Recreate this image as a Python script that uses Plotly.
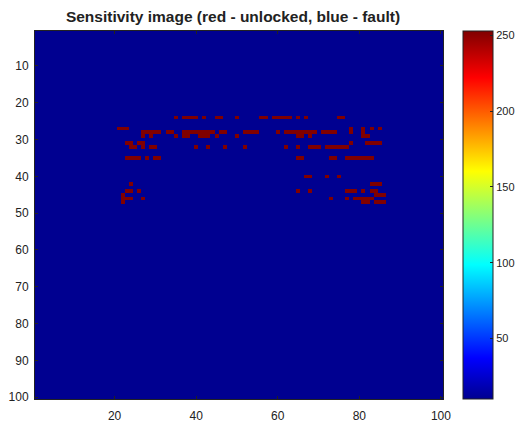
import numpy as np
import plotly.graph_objects as go

# ---- data ----
n_rows = 100
n_cols = 100
fault_value = 10        # blue background level
unlocked_value = 253    # red cells level

# (row, first_col, last_col) of red "unlocked" cells
unlocked_cells = [
    (24, 35, 35), (24, 37, 40), (24, 42, 42), (24, 45, 46), (24, 50, 50),
    (24, 56, 57), (24, 59, 63), (24, 65, 65), (24, 67, 67), (24, 75, 76),
    (27, 21, 23), (27, 78, 78), (27, 81, 81), (27, 83, 83), (27, 85, 85),
    (28, 27, 31), (28, 33, 34), (28, 37, 44), (28, 46, 47), (28, 52, 55),
    (28, 60, 60), (28, 62, 69), (28, 71, 74), (28, 78, 78), (28, 81, 81),
    (29, 27, 27), (29, 29, 29), (29, 35, 35), (29, 37, 38), (29, 41, 43),
    (29, 45, 45), (29, 50, 50), (29, 65, 66), (29, 68, 68), (29, 81, 82),
    (31, 23, 24), (31, 26, 27), (31, 78, 78), (31, 82, 85),
    (32, 24, 25), (32, 27, 27), (32, 29, 30), (32, 40, 40), (32, 43, 43),
    (32, 47, 47), (32, 52, 52), (32, 62, 62), (32, 65, 65), (32, 68, 70),
    (32, 72, 77),
    (35, 23, 26), (35, 28, 28), (35, 30, 31), (35, 65, 66), (35, 73, 74),
    (35, 77, 83),
    (40, 67, 68), (40, 72, 72), (40, 75, 75),
    (42, 24, 24), (42, 83, 85),
    (44, 23, 24), (44, 26, 26), (44, 65, 65), (44, 68, 68), (44, 77, 79),
    (44, 81, 81), (44, 83, 84),
    (45, 22, 22), (45, 84, 86),
    (46, 22, 24), (46, 27, 27), (46, 73, 73), (46, 77, 77), (46, 79, 83),
    (47, 22, 22), (47, 81, 82), (47, 84, 86),
]

x_ticks = [20, 40, 60, 80, 100]
y_ticks = [10, 20, 30, 40, 50, 60, 70, 80, 90, 100]
cbar_ticks = [50, 100, 150, 200, 250]
title_text = "Sensitivity image (red - unlocked, blue - fault)"

# ---- build matrix ----
z = np.full((n_rows, n_cols), fault_value, dtype=float)
for r, c0, c1 in unlocked_cells:
    z[r - 1, c0 - 1:c1] = unlocked_value

xs = list(range(1, n_cols + 1))
ys = list(range(1, n_rows + 1))

jet = [
    [0.0, "#000090"],
    [0.111, "#0000ff"],
    [0.365, "#00ffff"],
    [0.619, "#ffff00"],
    [0.873, "#ff0000"],
    [1.0, "#800000"],
]

font_family = "Liberation Sans, Arial, sans-serif"

W, H = 520, 427

fig = go.Figure(
    go.Heatmap(
        z=z, x=xs, y=ys,
        colorscale=jet,
        zsmooth=False,
        showscale=True,
        colorbar=dict(
            x=1.049, xanchor="left", xpad=0,
            y=0.5, yanchor="middle", len=1, lenmode="fraction", ypad=0,
            thickness=30, thicknessmode="pixels",
            outlinewidth=1, outlinecolor="#222",
            tickvals=cbar_ticks, ticktext=[str(v) for v in cbar_ticks],
            ticks="inside", ticklen=3, tickcolor="#222",
            tickfont=dict(size=11, color="#222", family=font_family),
        ),
        hoverinfo="skip",
    )
)

fig.update_layout(
    width=W, height=H,
    margin=dict(l=35, r=77, t=31, b=28, autoexpand=False),
    paper_bgcolor="white", plot_bgcolor="white",
    title=dict(
        text=title_text, x=233 / W, xanchor="center", xref="container",
        y=1 - 17 / H, yanchor="middle", yref="container",
        font=dict(size=15.5, color="#222", family=font_family, weight="bold"),
    ),
    font=dict(family=font_family, size=12, color="#222"),
)

fig.update_xaxes(
    range=[0.5, n_cols + 0.5], tickvals=x_ticks,
    ticks="inside", ticklen=3, tickcolor="#222",
    showline=True, linecolor="#222", linewidth=1, mirror="ticks",
    showgrid=False, zeroline=False, automargin=False,
    ticklabelstandoff=6,
    tickfont=dict(size=12, color="#222"),
)
fig.update_yaxes(
    range=[n_rows + 0.5, 0.5], tickvals=y_ticks,
    ticks="inside", ticklen=3, tickcolor="#222",
    showline=True, linecolor="#222", linewidth=1, mirror="ticks",
    showgrid=False, zeroline=False, automargin=False,
    ticklabelstandoff=3,
    tickfont=dict(size=12, color="#222"),
)

# remove the browser's default page margin so the figure fills the window exactly
fig.write_html(
    "out.html",
    config={"displayModeBar": False},
    post_script="document.body.style.margin='0';document.body.style.overflow='hidden';",
)
